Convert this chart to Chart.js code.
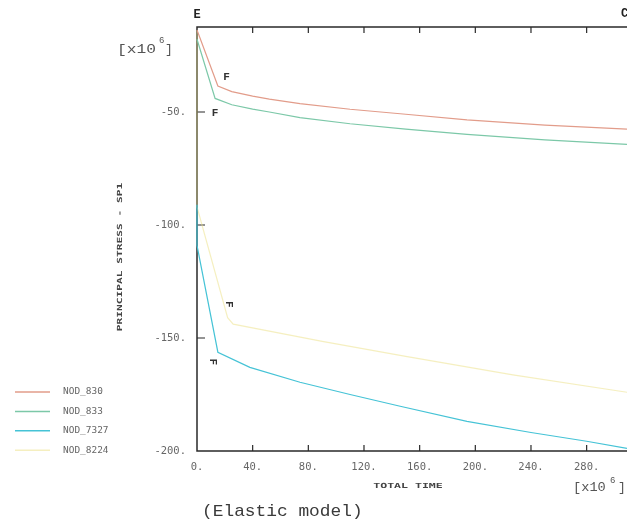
<!DOCTYPE html>
<html lang="en">
<head>
    <meta charset="UTF-8">
    <title>Principal Stress - SP1 (Elastic model)</title>
    <script src="https://cdn.jsdelivr.net/npm/chart.js"></script>
    <style>
        body { margin: 0; background: #fff; }
        canvas { display: block; }
    </style>
</head>
<body>
    <canvas id="stressChart" width="627" height="525"></canvas>

    <script>
        // values (time and stress both in units of 1e-6 / 1e6 as on the axes)
        const seriesNames = ['NOD_830', 'NOD_833', 'NOD_7327', 'NOD_8224'];
        const seriesColors = ['#e29c8a', '#7cc8a8', '#45c3d6', 'rgba(236,226,140,0.55)'];

        const time830 = [0, 15, 25, 40, 52, 74, 110, 150, 194, 250, 309];
        const sp830 = [-13.7, -38.5, -41, -43, -44.3, -46.3, -48.8, -51, -53.5, -55.8, -57.6];

        const time833 = [0, 13, 25, 40, 52, 74, 110, 150, 194, 250, 309];
        const sp833 = [-17.8, -44, -46.8, -48.7, -50, -52.5, -55.2, -57.6, -59.9, -62.3, -64.3];

        const time7327 = [0, 0, 15, 38, 74, 110, 146, 194, 240, 280, 309];
        const sp7327 = [-91, -109, -156.3, -163, -169.6, -175, -180.2, -186.9, -191.8, -195.7, -198.8];

        const time8224 = [0, 0, 22, 26, 90, 150, 227, 309];
        const sp8224 = [-14, -92, -141, -143.9, -151.5, -158.1, -166.3, -174];

        const xTickValues = [0, 40, 80, 120, 160, 200, 240, 280];
        const yTickValues = [-50, -100, -150, -200];

        // "F" markers next to the curves: [time, stress, rotated]
        const fMarks = [
            [21.3, -34.8, false],
            [12.9, -50.4, false],
            [22.5, -135.1, true],
            [11.1, -160.5, true]
        ];

        const allTimes = [time830, time833, time7327, time8224];
        const allValues = [sp830, sp833, sp7327, sp8224];

        function toPoints(xs, ys) {
            return xs.map((x, i) => ({ x: x, y: ys[i] }));
        }

        function stretchedText(ctx, s, x, y, font, sx, align, color) {
            ctx.save();
            ctx.translate(x, y);
            ctx.scale(sx, 1);
            ctx.font = font;
            ctx.textAlign = align;
            ctx.textBaseline = 'middle';
            ctx.fillStyle = color;
            ctx.fillText(s, 0, 0);
            ctx.restore();
        }

        const framePlugin = {
            id: 'frame',
            beforeDatasetsDraw(chart) {
                const ctx = chart.ctx;
                const a = chart.chartArea;
                const xs = chart.scales.x;
                const ys = chart.scales.y;
                ctx.save();
                ctx.strokeStyle = '#2a2a2a';
                ctx.lineWidth = 1.5;
                ctx.beginPath();
                ctx.moveTo(a.right, a.top);
                ctx.lineTo(a.left, a.top);
                ctx.lineTo(a.left, a.bottom);
                ctx.lineTo(a.right, a.bottom);
                ctx.stroke();

                ctx.lineWidth = 1.2;
                ctx.beginPath();
                xTickValues.slice(1).forEach(v => {
                    const px = xs.getPixelForValue(v);
                    ctx.moveTo(px, a.bottom);
                    ctx.lineTo(px, a.bottom - 6);
                    ctx.moveTo(px, a.top);
                    ctx.lineTo(px, a.top + 6);
                });
                yTickValues.slice(0, 3).forEach(v => {
                    const py = ys.getPixelForValue(v);
                    ctx.moveTo(a.left, py);
                    ctx.lineTo(a.left + 8, py);
                });
                ctx.stroke();
                ctx.restore();
            },
            afterDraw(chart) {
                const ctx = chart.ctx;
                const a = chart.chartArea;
                const xs = chart.scales.x;
                const ys = chart.scales.y;
                const grey = '#555';

                // corner letters
                stretchedText(ctx, 'E', a.left, 15, 'bold 12px "Liberation Mono"', 1, 'center', '#222');
                stretchedText(ctx, 'C', a.right - 6, 14, 'bold 12px "Liberation Mono"', 1, 'left', '#222');

                // scale factors
                stretchedText(ctx, '[x10', 117, 50, '13px "Liberation Mono"', 1.25, 'left', grey);
                stretchedText(ctx, '6', 159, 41, '9px "Liberation Mono"', 1, 'left', grey);
                stretchedText(ctx, ']', 165, 50, '13px "Liberation Mono"', 1, 'left', grey);
                stretchedText(ctx, '[x10', 573, 488, '13px "Liberation Mono"', 1.05, 'left', grey);
                stretchedText(ctx, '6', 610, 481, '9px "Liberation Mono"', 1, 'left', grey);
                stretchedText(ctx, ']', 618, 488, '13px "Liberation Mono"', 1, 'left', grey);

                // axis titles
                stretchedText(ctx, 'TOTAL TIME', 408, 486, 'bold 7px "DejaVu Sans Mono"', 1.65, 'center', '#444');
                ctx.save();
                ctx.translate(120, 257);
                ctx.rotate(-Math.PI / 2);
                stretchedText(ctx, 'PRINCIPAL STRESS - SP1', 0, 0, 'bold 7px "DejaVu Sans Mono"', 1.6, 'center', '#444');
                ctx.restore();

                // caption
                stretchedText(ctx, '(Elastic model)', 202, 511, '17px "Liberation Mono"', 1.05, 'left', '#3a3a3a');

                // F markers
                fMarks.forEach(m => {
                    const px = xs.getPixelForValue(m[0]);
                    const py = ys.getPixelForValue(m[1]);
                    ctx.save();
                    ctx.translate(px, py);
                    if (m[2]) ctx.rotate(Math.PI / 2);
                    stretchedText(ctx, 'F', 0, 0, 'bold 11px "Liberation Mono"', 1, 'center', '#333');
                    ctx.restore();
                });

                // legend
                chart.data.datasets.forEach((ds, i) => {
                    const y = 392 + i * 19.4;
                    ctx.save();
                    ctx.strokeStyle = ds.borderColor;
                    ctx.lineWidth = 1.5;
                    ctx.beginPath();
                    ctx.moveTo(15, y);
                    ctx.lineTo(50, y);
                    ctx.stroke();
                    ctx.restore();
                    stretchedText(ctx, ds.label, 63, y, '9px "DejaVu Sans Mono"', 1.05, 'left', '#666');
                });
            }
        };

        const ctx = document.getElementById('stressChart').getContext('2d');
        const chart = new Chart(ctx, {
            type: 'scatter',
            data: {
                datasets: seriesNames.map((name, i) => ({
                    label: name,
                    data: toPoints(allTimes[i], allValues[i]),
                    showLine: true,
                    borderColor: seriesColors[i],
                    backgroundColor: seriesColors[i],
                    borderWidth: 1.2,
                    pointRadius: 0,
                    tension: 0,
                    clip: 3
                }))
            },
            options: {
                responsive: false,
                animation: false,
                layout: { padding: { top: 27, left: 0, right: 0, bottom: 0 } },
                plugins: {
                    legend: { display: false },
                    tooltip: { enabled: false }
                },
                scales: {
                    x: {
                        type: 'linear',
                        min: 0,
                        max: 309,
                        grid: { display: false, drawTicks: false },
                        border: { display: false },
                        afterBuildTicks: scale => { scale.ticks = xTickValues.map(v => ({ value: v })); },
                        afterFit: scale => { scale.height = 74; },
                        ticks: {
                            autoSkip: false,
                            maxRotation: 0,
                            padding: 10,
                            color: '#666',
                            font: { family: 'DejaVu Sans Mono', size: 10.5 },
                            callback: v => v + '.'
                        }
                    },
                    y: {
                        min: -200,
                        max: -12.4,
                        grid: { display: false, drawTicks: false },
                        border: { display: false },
                        afterBuildTicks: scale => { scale.ticks = yTickValues.map(v => ({ value: v })); },
                        afterFit: scale => { scale.width = 197; },
                        ticks: {
                            padding: 11,
                            color: '#666',
                            font: { family: 'DejaVu Sans Mono', size: 10.5 },
                            callback: v => v + '.'
                        }
                    }
                }
            },
            plugins: [framePlugin]
        });
    </script>
</body>
</html>
